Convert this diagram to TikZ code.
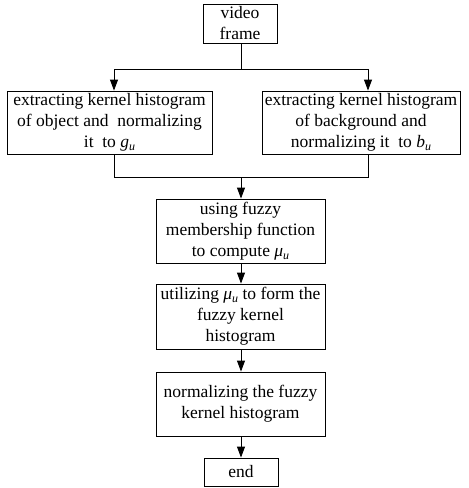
\documentclass[tikz,border=0pt]{standalone}
\usepackage{fontspec}
\setmainfont{Liberation Serif}
\usetikzlibrary{arrows.meta}
\newcommand{\sv}[2]{\textit{#1}\raisebox{-0.35ex}{\fontsize{12}{12}\selectfont\textit{#2}}}
\begin{document}
\begin{tikzpicture}[x=1pt,y=-1pt,
  box/.style={draw,line width=0.9pt,inner sep=0pt,align=center,font=\fontsize{17.5}{21}\selectfont},
  conn/.style={line width=0.9pt},
  arr/.style={line width=0.9pt,-{Triangle[length=11pt,width=8pt]}}]
\useasboundingbox (0,0) rectangle (469,488);
\node[box,minimum width=74pt,minimum height=39pt] (video) at (240,23.5) {video\\frame};
\node[box,minimum width=205pt,minimum height=63pt] (obj) at (109.5,122.5) {extracting kernel histogram\\of object and\ \ normalizing\\it\ \ to \sv{g}{u}};
\node[box,minimum width=198pt,minimum height=63pt] (bg) at (361,122.5) {extracting kernel histogram\\of background and\\normalizing it\ \ to \sv{b}{u}};
\node[box,minimum width=169pt,minimum height=64pt] (fuzzy) at (240.5,231) {using fuzzy\\membership function\\to compute \sv{μ}{u}};
\node[box,minimum width=169pt,minimum height=65pt] (form) at (240.5,316.5) {utilizing \sv{μ}{u} to form the\\fuzzy kernel\\histogram};
\node[box,minimum width=169pt,minimum height=64pt] (norm) at (240.5,404) {normalizing the fuzzy\\kernel histogram};
\node[box,minimum width=74pt,minimum height=28pt] (end) at (241,472) {end};
\coordinate (split) at (241,69);
\coordinate (sl) at (114,69);
\coordinate (sr) at (368,69);
\coordinate (jl) at (114,177);
\coordinate (jr) at (368,177);
\coordinate (join) at (241,177);
\draw[conn] (video.south -| split) -- (split);
\draw[conn] (sl) -- (sr);
\draw[arr] (sl) -- (sl |- obj.north);
\draw[arr] (sr) -- (sr |- bg.north);
\draw[conn] (obj.south -| jl) -- (jl) -- (jr) -- (bg.south -| jr);
\draw[arr] (join) -- (join |- fuzzy.north);
\draw[arr] (fuzzy.south -| join) -- (join |- form.north);
\draw[arr] (form.south -| join) -- (join |- norm.north);
\draw[arr] (norm.south -| join) -- (join |- end.north);
\end{tikzpicture}
\end{document}
